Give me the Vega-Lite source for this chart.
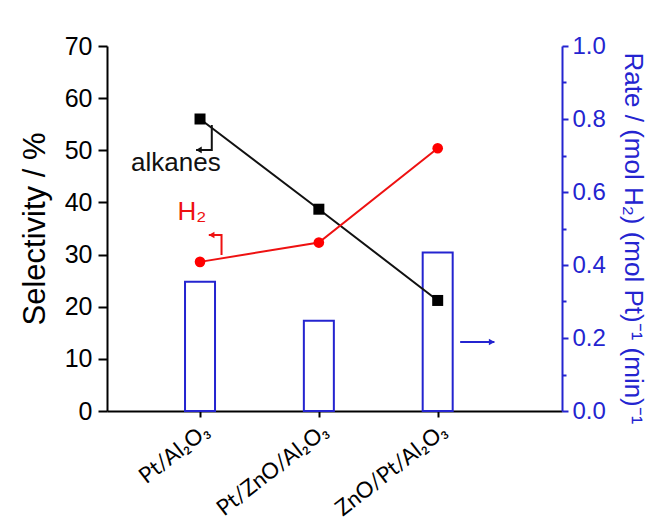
{
  "$schema": "https://vega.github.io/schema/vega-lite/v6.json",
  "width": 455,
  "height": 365,
  "autosize": {"type": "none"},
  "padding": {"left": 107, "top": 46, "right": 89, "bottom": 112},
  "background": "white",
  "config": {"view": {"stroke": null}, "font": "Liberation Sans", "axis": {"grid": false}},
  "datasets": {
    "main": [
      {"catalyst": "Pt/Al₂O₃", "pos": 1, "alkanes": 56.0, "H2": 28.6, "rate": 0.354},
      {"catalyst": "Pt/ZnO/Al₂O₃", "pos": 2, "alkanes": 38.7, "H2": 32.3, "rate": 0.247},
      {"catalyst": "ZnO/Pt/Al₂O₃", "pos": 3, "alkanes": 21.2, "H2": 50.4, "rate": 0.434}
    ],
    "arrows": [
      {"series": "alkanes", "order": 1, "pos": 1.099, "y": 54.85},
      {"series": "alkanes", "order": 2, "pos": 1.099, "y": 50.06},
      {"series": "alkanes", "order": 3, "pos": 0.967, "y": 50.06},
      {"series": "H2", "order": 1, "pos": 1.181, "y": 29.92},
      {"series": "H2", "order": 2, "pos": 1.181, "y": 33.75},
      {"series": "H2", "order": 3, "pos": 1.074, "y": 33.75},
      {"series": "rate", "order": 1, "pos": 3.189, "y": 13.23},
      {"series": "rate", "order": 2, "pos": 3.477, "y": 13.23}
    ],
    "heads": [
      {"series": "alkanes", "pos": 0.99, "y": 50.06},
      {"series": "H2", "pos": 1.097, "y": 33.75},
      {"series": "rate", "pos": 3.455, "y": 13.23}
    ],
    "labels": [
      {"series": "alkanes", "text": "alkanes", "pos": 0.42, "y": 46.03},
      {"series": "H2", "text": "H₂", "pos": 0.81, "y": 36.6}
    ]
  },
  "layer": [
    {
      "data": {"name": "main"},
      "mark": {"type": "bar", "orient": "vertical", "size": 30, "fill": "transparent", "stroke": "#2424d0", "strokeWidth": 2},
      "encoding": {
        "x": {
          "field": "pos", "type": "quantitative", "title": null,
          "scale": {"domain": [0.2593, 4.004], "nice": false, "zero": false},
          "axis": {
            "values": [1, 2, 3],
            "labelExpr": "['', 'Pt/Al₂O₃', 'Pt/ZnO/Al₂O₃', 'ZnO/Pt/Al₂O₃'][datum.value]",
            "labelAngle": -38, "labelAlign": "right", "labelBaseline": "top",
            "labelFont": "Lato, 'Noto Sans', sans-serif", "labelFontSize": 22, "labelColor": "black",
            "labelPadding": 3, "labelOverlap": false, "labelFlush": false,
            "tickSize": 6, "tickWidth": 2, "tickColor": "black",
            "domainColor": "black", "domainWidth": 2
          }
        },
        "y": {
          "field": "rate", "type": "quantitative",
          "title": "Rate / (mol H₂) (mol Pt)⁻¹ (min)⁻¹",
          "scale": {"domain": [0, 1], "nice": false},
          "axis": {
            "orient": "right",
            "titleColor": "#2424d0", "titleFontSize": 26, "titleFontWeight": "normal", "titlePadding": 14, "titleY": 192,
            "values": [0, 0.1, 0.2, 0.3, 0.4, 0.5, 0.6, 0.7, 0.8, 0.9, 1.0],
            "labelExpr": "round(datum.value*10) % 2 === 0 ? format(datum.value, '.1f') : ''",
            "labelOverlap": false, "labelFlush": false,
            "labelColor": "#2424d0", "labelFontSize": 24, "labelPadding": 4,
            "tickSize": {"condition": {"test": "round(datum.value*10) % 2 === 0", "value": 6}, "value": 4},
            "tickColor": "#2424d0", "tickWidth": 2,
            "domainColor": "#2424d0", "domainWidth": 2
          }
        }
      }
    },
    {
      "layer": [
        {
          "data": {"name": "main"},
          "mark": {"type": "line", "color": "#111111", "strokeWidth": 2,
                   "point": {"shape": "square", "size": 121, "filled": true, "color": "#000000", "opacity": 1}},
          "encoding": {
            "x": {"field": "pos", "type": "quantitative", "title": null},
            "y": {
              "field": "alkanes", "type": "quantitative", "title": "Selectivity / %",
              "scale": {"domain": [0, 70], "nice": false},
              "axis": {
                "orient": "left",
                "titleFontSize": 31, "titleFontWeight": "normal", "titleColor": "black", "titlePadding": 13,
                "values": [0, 5, 10, 15, 20, 25, 30, 35, 40, 45, 50, 55, 60, 65, 70],
                "labelExpr": "datum.value % 10 === 0 ? datum.label : ''",
                "labelOverlap": false, "labelFlush": false,
                "labelFontSize": 25, "labelColor": "black", "labelPadding": 6,
                "tickSize": {"condition": {"test": "datum.value % 10 === 0", "value": 9}, "value": 6},
                "tickColor": "black", "tickWidth": 2,
                "domainColor": "black", "domainWidth": 2
              }
            }
          }
        },
        {
          "data": {"name": "main"},
          "mark": {"type": "line", "color": "#ee1111", "strokeWidth": 2,
                   "point": {"shape": "circle", "size": 113, "filled": true, "color": "#ff0000", "opacity": 1}},
          "encoding": {
            "x": {"field": "pos", "type": "quantitative", "title": null},
            "y": {"field": "H2", "type": "quantitative", "title": "Selectivity / %"}
          }
        },
        {
          "data": {"name": "arrows"},
          "mark": {"type": "line", "strokeWidth": 2},
          "encoding": {
            "x": {"field": "pos", "type": "quantitative", "title": null},
            "y": {"field": "y", "type": "quantitative", "title": "Selectivity / %"},
            "detail": {"field": "series"},
            "order": {"field": "order"},
            "color": {"field": "series", "type": "nominal", "legend": null,
                      "scale": {"domain": ["alkanes", "H2", "rate"], "range": ["#111111", "#ee1111", "#2424d0"]}}
          }
        },
        {
          "data": {"name": "heads"},
          "mark": {"type": "point", "filled": true, "size": 45, "opacity": 1},
          "encoding": {
            "x": {"field": "pos", "type": "quantitative", "title": null},
            "y": {"field": "y", "type": "quantitative", "title": "Selectivity / %"},
            "shape": {"field": "series", "type": "nominal", "legend": null,
                      "scale": {"domain": ["alkanes", "H2", "rate"], "range": ["triangle-left", "triangle-left", "triangle-right"]}},
            "color": {"field": "series", "type": "nominal", "legend": null,
                      "scale": {"domain": ["alkanes", "H2", "rate"], "range": ["#111111", "#ee1111", "#2424d0"]}}
          }
        },
        {
          "data": {"name": "labels"},
          "mark": {"type": "text", "align": "left", "baseline": "alphabetic", "fontSize": 26, "font": "Liberation Sans"},
          "encoding": {
            "x": {"field": "pos", "type": "quantitative", "title": null},
            "y": {"field": "y", "type": "quantitative", "title": "Selectivity / %"},
            "text": {"field": "text"},
            "color": {"field": "series", "type": "nominal", "legend": null,
                      "scale": {"domain": ["alkanes", "H2", "rate"], "range": ["#111111", "#ee2233", "#2424d0"]}}
          }
        }
      ]
    }
  ],
  "resolve": {"scale": {"y": "independent"}, "axis": {"y": "independent"}}
}
